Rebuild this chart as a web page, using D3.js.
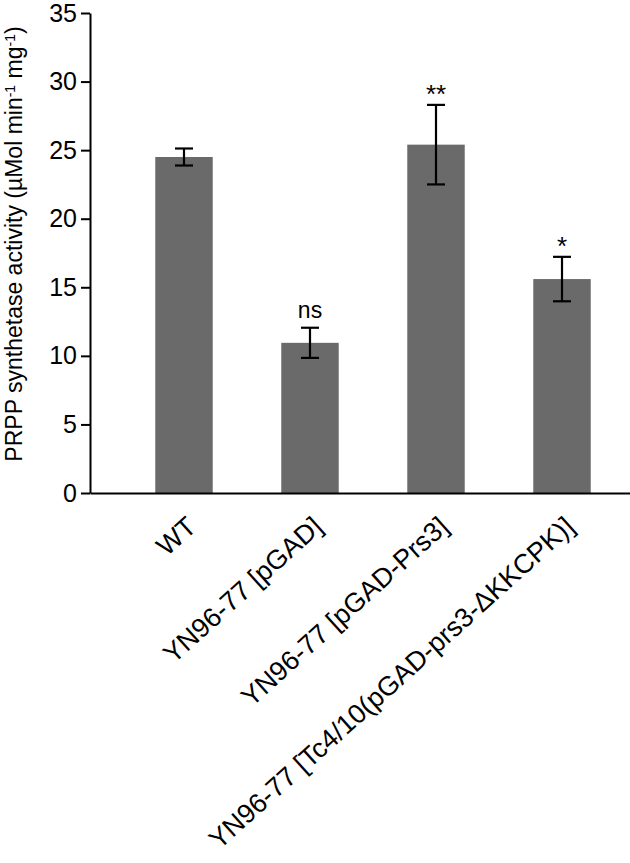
<!DOCTYPE html>
<html><head><meta charset="utf-8">
<script src="https://cdn.jsdelivr.net/npm/d3@7"></script>
<style>body{margin:0;background:#fff}</style>
</head><body><svg id="chart" width="630" height="863"></svg>
<script>
const categories = ["WT", "YN96-77 [pGAD]", "YN96-77 [pGAD-Prs3]", "YN96-77 [Tc4/10(pGAD-prs3-\u0394KKCPK)]"];
const means = [24.5, 10.95, 25.4, 15.6];
const errors = [0.62, 1.1, 2.9, 1.62];
const sigLabels = ["", "ns", "**", "*"];
const yTicks = [0, 5, 10, 15, 20, 25, 30, 35];

const font = "'Liberation Sans', Arial, Helvetica, sans-serif";
const svg = d3.select("#chart");
const data = categories.map((c, i) => ({c, m: means[i], e: errors[i], s: sigLabels[i]}));

const x = d3.scaleBand().domain(categories).range([90, 656]).paddingInner(0.544).paddingOuter(0.518);
const y = d3.scaleLinear().domain([0, 35]).range([493, 13]);

// bars
svg.append("g").selectAll("rect").data(data).join("rect")
  .attr("x", d => x(d.c)).attr("width", x.bandwidth())
  .attr("y", d => y(d.m)).attr("height", d => y(0) - y(d.m))
  .attr("fill", "#6a6a6a");

// error bars
const eb = svg.append("g").attr("stroke", "#000").attr("stroke-width", 2.2);
const cx = d => x(d.c) + x.bandwidth() / 2;
eb.selectAll(".v").data(data).join("line")
  .attr("x1", cx).attr("x2", cx)
  .attr("y1", d => y(d.m - d.e)).attr("y2", d => y(d.m + d.e));
eb.selectAll(".t").data(data).join("line")
  .attr("x1", d => cx(d) - 9).attr("x2", d => cx(d) + 9)
  .attr("y1", d => y(d.m + d.e)).attr("y2", d => y(d.m + d.e));
eb.selectAll(".b").data(data).join("line")
  .attr("x1", d => cx(d) - 9).attr("x2", d => cx(d) + 9)
  .attr("y1", d => y(d.m - d.e)).attr("y2", d => y(d.m - d.e));

// significance labels
svg.append("g").selectAll("text").data(data.filter(d => d.s)).join("text")
  .attr("x", cx)
  .attr("y", d => y(d.m + d.e) - (d.s.includes("*") ? 2 : 10))
  .attr("text-anchor", "middle")
  .attr("font-family", font)
  .attr("font-size", d => d.s.includes("*") ? 26 : 23)
  .text(d => d.s);

// y axis
const ya = svg.append("g").attr("transform", "translate(90,0)")
  .call(d3.axisLeft(y).tickValues(yTicks).tickSize(9).tickSizeOuter(0).tickPadding(4));
ya.select(".domain").attr("stroke", "#000").attr("stroke-width", 2);
ya.selectAll(".tick line").attr("stroke", "#000").attr("stroke-width", 2);
ya.selectAll(".tick text").attr("font-family", font).attr("font-size", 25).attr("fill", "#000");

// x axis
const xa = svg.append("g").attr("transform", "translate(0,493)")
  .call(d3.axisBottom(x).tickSize(0).tickSizeOuter(0).tickFormat(""));
xa.select(".domain").attr("stroke", "#000").attr("stroke-width", 2);

// x labels
svg.append("g").selectAll("text").data(categories).join("text")
  .attr("transform", d => `translate(${x(d) + x.bandwidth() / 2 + 14},${493 + 36}) rotate(-42)`)
  .attr("text-anchor", "end")
  .attr("font-family", font).attr("font-size", 27)
  .text(d => d);

// y label
const yl = svg.append("text")
  .attr("transform", "translate(22,244) rotate(-90)")
  .attr("text-anchor", "middle")
  .attr("font-family", font).attr("font-size", 23);
yl.append("tspan").text("PRPP synthetase activity (\u00b5Mol min");
yl.append("tspan").attr("font-size", 14).attr("dy", -7).text("-1");
yl.append("tspan").attr("dy", 7).text(" mg");
yl.append("tspan").attr("font-size", 14).attr("dy", -7).text("-1");
yl.append("tspan").attr("dy", 7).text(")");
</script></body></html>
